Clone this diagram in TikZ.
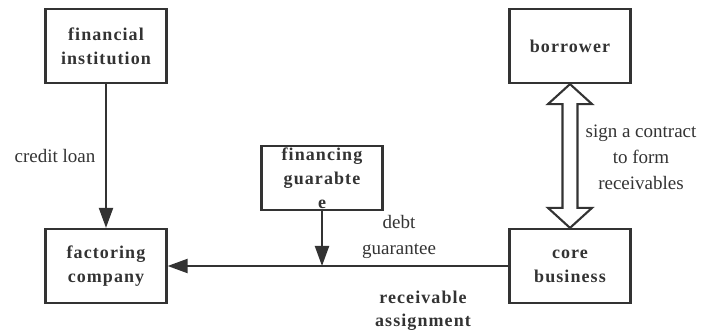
\documentclass[tikz,border=0pt]{standalone}
\usepackage{fontspec}
\setmainfont{Liberation Serif}
\newfontfamily\boxfont{Liberation Serif}[LetterSpace=6]
\usetikzlibrary{arrows.meta,calc}
\definecolor{ink}{HTML}{333333}

\begin{document}
\begin{tikzpicture}[x=1pt, y=-1pt, >={Triangle[length=20pt,width=14pt]},
    font=\fontsize{19}{26}\selectfont, every node/.style={text=ink},
    box/.style={draw=ink, line width=2.2pt, minimum width=121pt, minimum height=74pt,
        align=center, inner sep=0pt, font=\boxfont\bfseries\fontsize{18}{24}\selectfont},
    link/.style={draw=ink, line width=2.1pt},
    lab/.style={align=center, inner sep=0pt}]

    % Okraje obrazku
    \useasboundingbox (0,0) rectangle (703,336);

    % 1. Bloky
    \node[box] (fin)  at (106,46)  {financial\\institution};
    \node[box] (fac)  at (106,266) {factoring\\company};
    \node[box] (bor)  at (570,46)  {borrower};
    \node[box] (core) at (570,266) {core\\business};
    \node[box, minimum height=64pt] (guar) at (322,178) {};
    \node[box, draw=none] (guartxt) at (guar) {financing\\guarabte\\e};

    % 2. Spojnice
    \draw[link, ->] (fin) -- (fac);
    \draw[link, ->] (core) -- (fac);
    \coordinate (join) at (guar.south |- fac.east);
    \draw[link, ->] (guar) -- (join);

    % 3. Dvojita dutá šipka (borrower <-> core business)
    \draw[link, fill=white, line join=miter]
        (bor.south) -- ($(bor.south)+(22,20)$) -- ($(bor.south)+(7.5,20)$)
        -- ($(core.north)+(7.5,-20)$) -- ($(core.north)+(22,-20)$) -- (core.north)
        -- ($(core.north)+(-22,-20)$) -- ($(core.north)+(-7.5,-20)$)
        -- ($(bor.south)+(-7.5,20)$) -- ($(bor.south)+(-22,20)$) -- cycle;

    % 4. Popisky
    \node[lab] (credit) at (55,156)  {credit loan};
    \node[lab] (debt)   at (399,237) {debt\\guarantee};
    \node[lab, font=\boxfont\bfseries\fontsize{18}{23}\selectfont] (assign) at (423,311) {receivable\\assignment};
    \node[lab] (sign)   at (641,157) {sign a contract\\to form\\receivables};

\end{tikzpicture}
\end{document}
